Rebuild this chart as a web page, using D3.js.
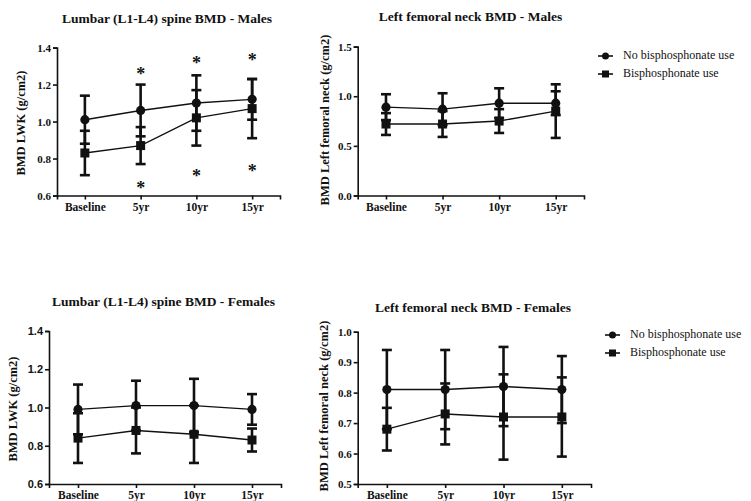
<!DOCTYPE html>
<html>
<head>
<meta charset="utf-8">
<script src="https://cdn.jsdelivr.net/npm/d3@7"></script>
<style>
  body { margin: 0; background: #fff; }
  svg { display: block; }
  .serif { font-family: "Liberation Serif", "DejaVu Serif", serif; }
  .sans { font-family: "Liberation Sans", "DejaVu Sans", sans-serif; }
</style>
</head>
<body>
<div id="chart"></div>
<script>
// categories and series
var categories = ["Baseline", "5yr", "10yr", "15yr"];
var seriesNames = ["No bisphosphonate use", "Bisphosphonate use"];

// Lumbar spine - males (mean, error)
var lumbarMalesNoBis = [1.01, 1.06, 1.10, 1.12];
var lumbarMalesNoBisErr = [0.13, 0.14, 0.15, 0.11];
var lumbarMalesBis = [0.83, 0.87, 1.02, 1.07];
var lumbarMalesBisErr = [0.12, 0.10, 0.15, 0.16];
// significance asterisks (value where the * sits)
var lumbarMalesStarAbove = [null, 1.28, 1.34, 1.355];
var lumbarMalesStarBelow = [null, 0.665, 0.73, 0.755];

// Left femoral neck - males
var femurMalesNoBis = [0.89, 0.87, 0.93, 0.93];
var femurMalesNoBisErr = [0.13, 0.16, 0.15, 0.12];
var femurMalesBis = [0.72, 0.72, 0.75, 0.85];
var femurMalesBisErr = [0.11, 0.13, 0.12, 0.27];

// Lumbar spine - females
var lumbarFemalesNoBis = [0.99, 1.01, 1.01, 0.99];
var lumbarFemalesNoBisErr = [0.13, 0.13, 0.14, 0.08];
var lumbarFemalesBis = [0.84, 0.88, 0.86, 0.83];
var lumbarFemalesBisErr = [0.13, 0.12, 0.15, 0.06];

// Left femoral neck - females
var femurFemalesNoBis = [0.81, 0.81, 0.82, 0.81];
var femurFemalesNoBisErr = [0.13, 0.13, 0.13, 0.11];
var femurFemalesBis = [0.68, 0.73, 0.72, 0.72];
var femurFemalesBisErr = [0.07, 0.10, 0.14, 0.13];

// y axis ticks
var lumbarTicks = [0.6, 0.8, 1.0, 1.2, 1.4];
var femurMalesTicks = [0.0, 0.5, 1.0, 1.5];
var femurFemalesTicks = [0.5, 0.6, 0.7, 0.8, 0.9, 1.0];

var W = 751, H = 501;
var ink = "#111";

var svg = d3.select("#chart").append("svg")
  .attr("width", W).attr("height", H);

// panel layout (pixel boxes)
var panels = [
  { title: "Lumbar (L1-L4) spine BMD - Males", ylab: "BMD LWK (g/cm2)",
    a: lumbarMalesNoBis, aErr: lumbarMalesNoBisErr, b: lumbarMalesBis, bErr: lumbarMalesBisErr,
    ticks: lumbarTicks, tickFont: "serif",
    x0: 57, x1: 280, yTop: 47.6, yBot: 195.5,
    titleX: 167, titleY: 20, ylabX: 22, ylabY: 123,
    starsAbove: lumbarMalesStarAbove, starsBelow: lumbarMalesStarBelow },
  { title: "Left femoral neck BMD - Males", ylab: "BMD Left femoral neck (g/cm2)",
    a: femurMalesNoBis, aErr: femurMalesNoBisErr, b: femurMalesBis, bErr: femurMalesBisErr,
    ticks: femurMalesTicks, tickFont: "serif",
    x0: 357.7, x1: 584, yTop: 46.6, yBot: 195.5,
    titleX: 470.5, titleY: 18, ylabX: 326.5, ylabY: 120,
    legend: { x: 598, y: 56 } },
  { title: "Lumbar (L1-L4) spine BMD - Females", ylab: "BMD LWK (g/cm2)",
    a: lumbarFemalesNoBis, aErr: lumbarFemalesNoBisErr, b: lumbarFemalesBis, bErr: lumbarFemalesBisErr,
    ticks: lumbarTicks, tickFont: "sans",
    x0: 49, x1: 281, yTop: 331, yBot: 484,
    titleX: 163.5, titleY: 302.7, ylabX: 14, ylabY: 409 },
  { title: "Left femoral neck BMD - Females", ylab: "BMD Left femoral neck (g/cm2)",
    a: femurFemalesNoBis, aErr: femurFemalesNoBisErr, b: femurFemalesBis, bErr: femurFemalesBisErr,
    ticks: femurFemalesTicks, tickFont: "serif",
    x0: 357.7, x1: 591, yTop: 331.7, yBot: 484,
    titleX: 473, titleY: 309.3, ylabX: 325, ylabY: 406,
    legend: { x: 605, y: 335 } }
];

panels.forEach(function(p) {
  var g = svg.append("g");

  var x = d3.scalePoint().domain(categories).range([p.x0, p.x1]).padding(0.5);
  var y = d3.scaleLinear()
    .domain([p.ticks[0], p.ticks[p.ticks.length - 1]])
    .range([p.yBot, p.yTop]);

  // axes
  var xAxis = g.append("g")
    .attr("transform", "translate(0," + p.yBot + ")")
    .call(d3.axisBottom(x).tickSizeOuter(0).tickSize(4).tickPadding(3));
  xAxis.attr("font-family", null).attr("font-size", null);
  xAxis.selectAll("text")
    .attr("class", "serif").attr("font-weight", "bold")
    .style("font-size", "11.5px").attr("fill", ink);

  var yAxis = g.append("g")
    .attr("transform", "translate(" + p.x0 + ",0)")
    .call(d3.axisLeft(y).tickValues(p.ticks).tickFormat(d3.format(".1f"))
      .tickSizeOuter(0).tickSize(4).tickPadding(2));
  yAxis.attr("font-family", null).attr("font-size", null);
  yAxis.selectAll("text")
    .attr("class", p.tickFont).attr("font-weight", "bold")
    .style("font-size", "11px").attr("fill", ink);

  g.selectAll(".domain, .tick line")
    .attr("stroke", ink).attr("stroke-width", 1.6);

  // title
  g.append("text")
    .attr("class", "serif")
    .attr("x", p.titleX).attr("y", p.titleY)
    .attr("text-anchor", "middle").attr("dominant-baseline", "middle")
    .attr("font-weight", "bold")
    .style("font-size", "13.5px").attr("fill", ink)
    .text(p.title);

  // y label
  g.append("text")
    .attr("class", "serif")
    .attr("transform", "translate(" + p.ylabX + "," + p.ylabY + ")rotate(-90)")
    .attr("text-anchor", "middle").attr("dominant-baseline", "middle")
    .attr("font-weight", "bold")
    .style("font-size", "12.5px").attr("fill", ink)
    .text(p.ylab);

  var series = [
    { vals: p.a, err: p.aErr, shape: "circle" },
    { vals: p.b, err: p.bErr, shape: "square" }
  ];

  series.forEach(function(s) {
    var pts = categories.map(function(c, i) {
      return { cat: c, v: s.vals[i], e: s.err[i] };
    });

    // error bars
    var eb = g.append("g");
    eb.selectAll(".stem").data(pts).enter().append("line")
      .attr("x1", function(d) { return x(d.cat); })
      .attr("x2", function(d) { return x(d.cat); })
      .attr("y1", function(d) { return y(d.v - d.e); })
      .attr("y2", function(d) { return y(d.v + d.e); })
      .attr("stroke", ink).attr("stroke-width", 2.6);
    [-1, 1].forEach(function(sign) {
      eb.selectAll(".cap" + sign).data(pts).enter().append("line")
        .attr("x1", function(d) { return x(d.cat) - 5; })
        .attr("x2", function(d) { return x(d.cat) + 5; })
        .attr("y1", function(d) { return y(d.v + sign * d.e); })
        .attr("y2", function(d) { return y(d.v + sign * d.e); })
        .attr("stroke", ink).attr("stroke-width", 2.6);
    });

    // connecting line
    g.append("path")
      .datum(pts)
      .attr("fill", "none").attr("stroke", ink).attr("stroke-width", 1.4)
      .attr("d", d3.line()
        .x(function(d) { return x(d.cat); })
        .y(function(d) { return y(d.v); }));

    // markers
    if (s.shape === "circle") {
      g.selectAll(".dot").data(pts).enter().append("circle")
        .attr("cx", function(d) { return x(d.cat); })
        .attr("cy", function(d) { return y(d.v); })
        .attr("r", 4.6).attr("fill", ink);
    } else {
      g.selectAll(".sq").data(pts).enter().append("rect")
        .attr("x", function(d) { return x(d.cat) - 4.5; })
        .attr("y", function(d) { return y(d.v) - 4.5; })
        .attr("width", 9).attr("height", 9).attr("fill", ink);
    }
  });

  // asterisks
  if (p.starsAbove) {
    [p.starsAbove, p.starsBelow].forEach(function(arr) {
      var sd = categories.map(function(c, i) { return { cat: c, v: arr[i] }; })
        .filter(function(d) { return d.v != null; });
      g.selectAll(".star").data(sd).enter().append("text")
        .attr("class", "serif")
        .attr("x", function(d) { return x(d.cat); })
        .attr("y", function(d) { return y(d.v); })
        .attr("dy", "0.58em")
        .attr("text-anchor", "middle")
        .attr("font-weight", "bold")
        .style("font-size", "18px").attr("fill", ink)
        .text("*");
    });
  }

  // legend
  if (p.legend) {
    seriesNames.forEach(function(name, i) {
      var ly = p.legend.y + i * 18;
      var lg = g.append("g");
      lg.append("line")
        .attr("x1", p.legend.x).attr("x2", p.legend.x + 15)
        .attr("y1", ly).attr("y2", ly)
        .attr("stroke", ink).attr("stroke-width", 1.6);
      if (i === 0) {
        lg.append("circle").attr("cx", p.legend.x + 7.5).attr("cy", ly)
          .attr("r", 3.5).attr("fill", ink);
      } else {
        lg.append("rect").attr("x", p.legend.x + 4).attr("y", ly - 3.5)
          .attr("width", 7).attr("height", 7).attr("fill", ink);
      }
      lg.append("text")
        .attr("class", "serif")
        .attr("x", p.legend.x + 25).attr("y", ly)
        .attr("dominant-baseline", "middle")
        .style("font-size", "12px").attr("fill", ink)
        .text(name);
    });
  }
});
</script>
</body>
</html>
